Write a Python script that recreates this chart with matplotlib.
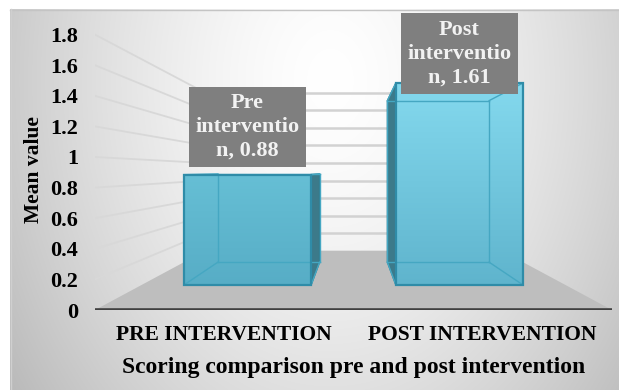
import numpy as np
import matplotlib
matplotlib.use("Agg")
import matplotlib.pyplot as plt
from matplotlib.patches import Polygon
from matplotlib.colors import to_rgb

# Data
categories = ["PRE INTERVENTION", "POST INTERVENTION"]
point_labels = ["Pre\ninterventio\nn", "Post\ninterventio\nn"]
mean_values = [0.88, 1.61]
y_ticks = [0, 0.2, 0.4, 0.6, 0.8, 1, 1.2, 1.4, 1.6, 1.8]

plt.rcParams["font.family"] = ["Liberation Serif", "DejaVu Serif"]
plt.rcParams["font.weight"] = "bold"

W, H = 619, 390
fig = plt.figure(figsize=(W / 100, H / 100), dpi=100)

# background: soft radial gradient inside a thin frame
bg = fig.add_axes([0, 0, 1, 1], zorder=0)
bg.set_axis_off()
xx, yy = np.meshgrid(np.arange(W), np.arange(H))
d = np.sqrt(((xx - 330) / 330.0) ** 2 + ((yy - 80) / 450.0) ** 2)
shade = 1 - 0.21 * np.clip(d, 0, 1.2) ** 1.5
shade[(xx < 10) | (yy < 9)] = 1.0
bg.imshow(np.dstack([shade] * 3), extent=(0, W, H, 0), aspect="auto")
bg.plot([10, W], [9.5, 9.5], color="#c4c4c4", lw=1)
bg.plot([10.5, 10.5], [9, H], color="#cfcfcf", lw=1)
bg.set_xlim(0, W)
bg.set_ylim(H, 0)

# main axes: front plane of the 3-D box, value 0 on the front floor edge
ax = fig.add_axes([95 / W, (H - 310) / H, 517 / W, 310 / H], zorder=1)
ax.set_facecolor("none")
XMIN, XMAX = -0.5, 1.5
YMAX = 310 / 153.0

# simple one-point perspective towards a vanishing point
VX, VV = 0.5, 0.908
S_WALL, S_FRONT, S_BACK = 0.573, 0.82, 0.656
BAR_W = 0.6


def proj(x, v, s):
    return VX + s * (x - VX), VV + s * (v - VV)


def fill_gradient(verts, top, bottom, z):
    poly = Polygon(verts, closed=True, facecolor="none", edgecolor="none")
    ax.add_patch(poly)
    xs, ys = zip(*verts)
    c0, c1 = np.array(to_rgb(top)), np.array(to_rgb(bottom))
    g = np.linspace(1, 0, 256)[:, None, None]
    img = c1 + (c0 - c1) * g
    im = ax.imshow(img, extent=(min(xs), max(xs), min(ys), max(ys)),
                   origin="upper", aspect="auto", zorder=z)
    im.set_clip_path(poly)


# floor
floor = [proj(XMIN, 0, 1), proj(XMAX, 0, 1), proj(XMAX, 0, S_WALL), proj(XMIN, 0, S_WALL)]
ax.add_patch(Polygon(floor, closed=True, facecolor="#bebebe", edgecolor="none", zorder=2))

# gridlines on the side wall and the back wall
for t in y_ticks[1:]:
    p0 = proj(XMIN, t, 1)
    p1 = proj(XMIN, t, S_WALL)
    p2 = proj(XMAX, t, S_WALL)
    ax.plot([p0[0], p1[0]], [p0[1], p1[1]], color="#d8d8d8", lw=1.3, zorder=1)
    ax.plot([p1[0], p2[0]], [p1[1], p2[1]], color="#d2d2d2", lw=1.8, zorder=1)

# front floor edge
ax.plot([XMIN, XMAX], [0, 0], color="#404040", lw=2.6, zorder=3, solid_capstyle="butt")

bar_tops = ["#66bfd5", "#84d9ee"]
bar_bottoms = ["#57adc6", "#5fb4cd"]

for i, v in enumerate(mean_values):
    x0, x1 = i - BAR_W / 2, i + BAR_W / 2
    front = [proj(x0, 0, S_FRONT), proj(x1, 0, S_FRONT), proj(x1, v, S_FRONT), proj(x0, v, S_FRONT)]
    back = [proj(x0, 0, S_BACK), proj(x1, 0, S_BACK), proj(x1, v, S_BACK), proj(x0, v, S_BACK)]
    xs = x1 if x1 < VX else x0
    side = [proj(xs, 0, S_FRONT), proj(xs, 0, S_BACK), proj(xs, v, S_BACK), proj(xs, v, S_FRONT)]

    ax.add_patch(Polygon(side, closed=True, facecolor="#3c7a8a", edgecolor="#2f7b90",
                         lw=1, zorder=4))
    fill_gradient(front, bar_tops[i], bar_bottoms[i], 5)

    # the box is see-through: show its back edges
    for k in range(4):
        a, b = back[k], back[(k + 1) % 4]
        ax.plot([a[0], b[0]], [a[1], b[1]], color="#45a7c2", lw=1, zorder=6)
        a, b = front[k], back[k]
        ax.plot([a[0], b[0]], [a[1], b[1]], color="#45a7c2", lw=1, zorder=6)
    ax.add_patch(Polygon(front, closed=True, facecolor="none", edgecolor="#2f8ca8",
                         lw=1.6, zorder=7))

    # data label above the bar
    lx = proj(i, v, S_FRONT)[0]
    ly = proj(i, v, S_BACK)[1]
    ax.annotate(f"{point_labels[i]}, {v:.2f}", xy=(lx, ly), xytext=(0, 9.5),
                textcoords="offset points", ha="center", va="bottom",
                fontsize=16, fontweight="bold", color="#f2f2f2",
                linespacing=1.25, zorder=10, annotation_clip=False,
                bbox=dict(boxstyle="square,pad=0.3", facecolor="#7f7f7f",
                          edgecolor="none"))

ax.set_xlim(XMIN, XMAX)
ax.set_ylim(0, YMAX)
ax.set_xticks(range(len(categories)))
ax.set_xticklabels(categories, fontsize=15.5, fontweight="bold")
ax.set_yticks(y_ticks)
ax.set_yticklabels([f"{t:g}" for t in y_ticks], fontsize=16, fontweight="bold")
ax.tick_params(axis="y", length=0, pad=12)
ax.tick_params(axis="x", length=0, pad=11)
for sp in ax.spines.values():
    sp.set_visible(False)

ax.set_xlabel("Scoring comparison pre and post intervention", fontsize=17,
              fontweight="bold", va="center")
ax.xaxis.set_label_coords(0.5, -0.187)
ax.set_ylabel("Mean value", fontsize=15.5, fontweight="bold", va="center")
ax.yaxis.set_label_coords(-0.118, 0.452)

fig.savefig("out.png", dpi=100)
